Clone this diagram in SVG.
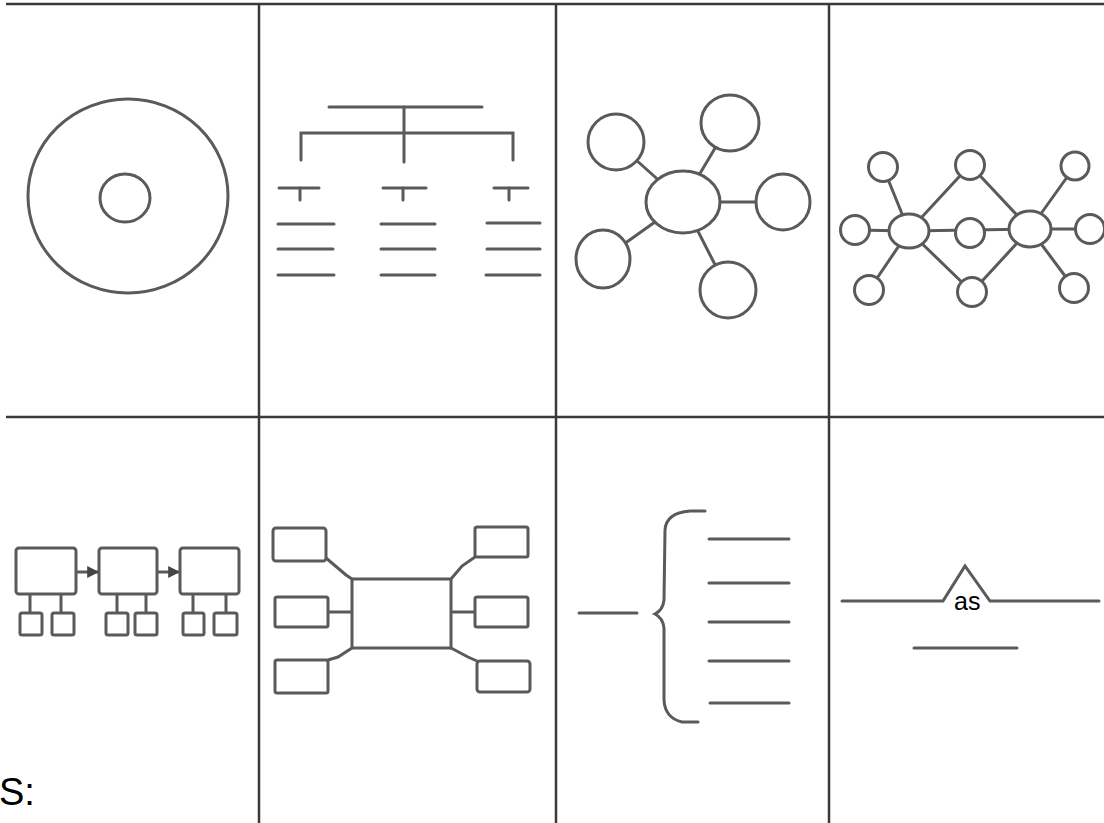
<svg xmlns="http://www.w3.org/2000/svg" width="1104" height="823" viewBox="0 0 1104 823">
<style>
.grid{stroke:#3a3a3a;stroke-width:2.5;fill:none}
.s{stroke:#5a5a5a;stroke-width:3;fill:none;stroke-linecap:round}
.n{stroke:#5a5a5a;stroke-width:3;fill:#fff}
.c{stroke:#5a5a5a;stroke-width:3;fill:none}
.t{font-family:"Liberation Sans",Arial,sans-serif;fill:#000}
</style>
<defs>
<marker id="arr" viewBox="0 0 10 10" refX="9" refY="5" markerWidth="4" markerHeight="4" orient="auto"><path d="M0,0L10,5L0,10z" fill="#444"/></marker>
</defs>
<rect width="1104" height="823" fill="#fff"/>
<g id="grid">
<line class="grid" x1="6" y1="4" x2="1104" y2="4"/>
<line class="grid" x1="6" y1="417" x2="1104" y2="417"/>
<line class="grid" x1="259" y1="4" x2="259" y2="823"/>
<line class="grid" x1="556" y1="4" x2="556" y2="823"/>
<line class="grid" x1="829" y1="4" x2="829" y2="823"/>
</g>
<!-- cell 1: concentric circles -->
<g id="cell1">
<ellipse id="outer" class="c" cx="128" cy="196" rx="100" ry="97"/>
<ellipse id="inner" class="c" cx="125" cy="198" rx="25" ry="24"/>
</g>
<!-- cell 2: tree -->
<g id="cell2">
<g id="tree-connectors">
<line class="s" x1="329" y1="107" x2="482" y2="107"/>
<line class="s" x1="404" y1="107" x2="404" y2="162"/>
<polyline class="s" points="301,160 301,133 513,133 513,160"/>
</g>
<g id="branch-left">
<line class="s" x1="279" y1="188" x2="319" y2="188"/><line class="s" x1="300" y1="188" x2="300" y2="200"/>
<line class="s" x1="278" y1="224" x2="334" y2="224"/><line class="s" x1="278" y1="249" x2="333" y2="249"/><line class="s" x1="278" y1="275" x2="334" y2="275"/>
</g>
<g id="branch-mid">
<line class="s" x1="383" y1="188" x2="426" y2="188"/><line class="s" x1="403" y1="188" x2="403" y2="200"/>
<line class="s" x1="381" y1="224" x2="435" y2="224"/><line class="s" x1="381" y1="249" x2="435" y2="249"/><line class="s" x1="381" y1="275" x2="435" y2="275"/>
</g>
<g id="branch-right">
<line class="s" x1="494" y1="188" x2="528" y2="188"/><line class="s" x1="509" y1="188" x2="509" y2="200"/>
<line class="s" x1="487" y1="223" x2="540" y2="223"/><line class="s" x1="487" y1="249" x2="540" y2="249"/><line class="s" x1="486" y1="275" x2="540" y2="275"/>
</g>
</g>
<!-- cell 3: star -->
<g id="cell3">
<g id="star-connectors">
<line class="s" x1="683" y1="202" x2="616" y2="142"/>
<line class="s" x1="683" y1="202" x2="730" y2="123"/>
<line class="s" x1="683" y1="202" x2="783" y2="202"/>
<line class="s" x1="683" y1="202" x2="603" y2="259"/>
<line class="s" x1="683" y1="202" x2="728" y2="290"/>
</g>
<ellipse id="star-center" class="n" cx="683" cy="202" rx="37" ry="31"/>
<ellipse id="star-tl" class="n" cx="616" cy="142" rx="28" ry="28"/>
<ellipse id="star-tr" class="n" cx="730" cy="123" rx="29" ry="28"/>
<ellipse id="star-r" class="n" cx="783" cy="202" rx="27" ry="28"/>
<ellipse id="star-bl" class="n" cx="603" cy="259" rx="27" ry="29"/>
<ellipse id="star-br" class="n" cx="728" cy="290" rx="28" ry="28"/>
</g>
<!-- cell 4: double star -->
<g id="cell4">
<g id="net-connectors">
<line class="s" x1="909" y1="231" x2="883" y2="167"/>
<line class="s" x1="909" y1="231" x2="855" y2="230"/>
<line class="s" x1="909" y1="231" x2="869" y2="290"/>
<line class="s" x1="909" y1="231" x2="970" y2="165"/>
<line class="s" x1="909" y1="231" x2="972" y2="292"/>
<line class="s" x1="909" y1="231" x2="1030" y2="229"/>
<line class="s" x1="1030" y1="229" x2="970" y2="165"/>
<line class="s" x1="1030" y1="229" x2="972" y2="292"/>
<line class="s" x1="1030" y1="229" x2="1075" y2="166"/>
<line class="s" x1="1030" y1="229" x2="1090" y2="229"/>
<line class="s" x1="1030" y1="229" x2="1074" y2="288"/>
</g>
<ellipse id="hub-left" class="n" cx="909" cy="231" rx="20" ry="17"/>
<ellipse id="hub-right" class="n" cx="1030" cy="229" rx="21" ry="18"/>
<circle id="net-tl" class="n" cx="883" cy="167" r="14.5"/>
<circle id="net-tm" class="n" cx="970" cy="165" r="14.5"/>
<circle id="net-tr" class="n" cx="1075" cy="166" r="14"/>
<circle id="net-l" class="n" cx="855" cy="230" r="14.5"/>
<circle id="net-m" class="n" cx="970" cy="233" r="14.5"/>
<circle id="net-r" class="n" cx="1090" cy="229" r="14.5"/>
<circle id="net-bl" class="n" cx="869" cy="290" r="14.5"/>
<circle id="net-bm" class="n" cx="972" cy="292" r="14.5"/>
<circle id="net-br" class="n" cx="1074" cy="288" r="14.5"/>
</g>
<!-- cell 5: flow of boxes -->
<g id="cell5">
<g id="flow-connectors">
<line class="s" x1="77" y1="572" x2="98" y2="572" marker-end="url(#arr)"/>
<line class="s" x1="158" y1="572" x2="179" y2="572" marker-end="url(#arr)"/>
<line class="s" x1="30" y1="594" x2="30" y2="613"/>
<line class="s" x1="61" y1="594" x2="61" y2="613"/>
<line class="s" x1="117" y1="594" x2="117" y2="613"/>
<line class="s" x1="146" y1="594" x2="146" y2="613"/>
<line class="s" x1="193" y1="594" x2="193" y2="613"/>
<line class="s" x1="226" y1="594" x2="226" y2="613"/>
</g>
<rect id="flow-1" class="n" x="16" y="548" width="60" height="46" rx="3"/>
<rect id="flow-2" class="n" x="99" y="548" width="58" height="46" rx="3"/>
<rect id="flow-3" class="n" x="180" y="548" width="59" height="46" rx="3"/>
<rect id="sub-1a" class="n" x="20" y="613" width="22" height="22" rx="2"/>
<rect id="sub-1b" class="n" x="52" y="613" width="22" height="22" rx="2"/>
<rect id="sub-2a" class="n" x="106" y="613" width="22" height="22" rx="2"/>
<rect id="sub-2b" class="n" x="135" y="613" width="22" height="22" rx="2"/>
<rect id="sub-3a" class="n" x="183" y="613" width="21" height="22" rx="2"/>
<rect id="sub-3b" class="n" x="214" y="613" width="23" height="22" rx="2"/>
</g>
<!-- cell 6: central box with satellites -->
<g id="cell6">
<g id="sat-connectors">
<polyline class="s" points="326,558 346,575 352,579"/>
<line class="s" x1="328" y1="612" x2="352" y2="612"/>
<polyline class="s" points="352,648 338,657 328,660"/>
<polyline class="s" points="451,579 462,566 475,557"/>
<line class="s" x1="451" y1="612" x2="475" y2="612"/>
<polyline class="s" points="451,648 468,657 477,661"/>
</g>
<rect id="center-box" class="n" x="352" y="579" width="99" height="69"/>
<rect id="sat-tl" class="n" x="273" y="528" width="53" height="33" rx="3"/>
<rect id="sat-ml" class="n" x="275" y="597" width="53" height="30" rx="2"/>
<rect id="sat-bl" class="n" x="275" y="660" width="53" height="33" rx="2"/>
<rect id="sat-tr" class="n" x="475" y="527" width="53" height="30" rx="2"/>
<rect id="sat-mr" class="n" x="475" y="597" width="53" height="30" rx="2"/>
<rect id="sat-br" class="n" x="477" y="661" width="53" height="31" rx="3"/>
</g>
<!-- cell 7: brace -->
<g id="cell7">
<line class="s" x1="579" y1="613" x2="637" y2="613"/>
<path class="s" d="M705,511 L690,511 Q666,513 665,530 L664,600 Q663,610 655,614 Q663,618 664,628 L664,700 Q665,718 682,722 L698,722"/>
<line class="s" x1="709" y1="539" x2="789" y2="539"/>
<line class="s" x1="709" y1="583" x2="789" y2="583"/>
<line class="s" x1="709" y1="622" x2="789" y2="622"/>
<line class="s" x1="709" y1="661" x2="789" y2="661"/>
<line class="s" x1="710" y1="703" x2="789" y2="703"/>
</g>
<!-- cell 8: line with bump -->
<g id="cell8">
<polyline class="s" points="842,601 943,601 965,566 990,601 1099,601"/>
<line class="s" x1="914" y1="648" x2="1017" y2="648"/>
<text class="t" x="954" y="610" font-size="25">as</text>
</g>
<text class="t" x="-1" y="805" font-size="38">S:</text>
</svg>
